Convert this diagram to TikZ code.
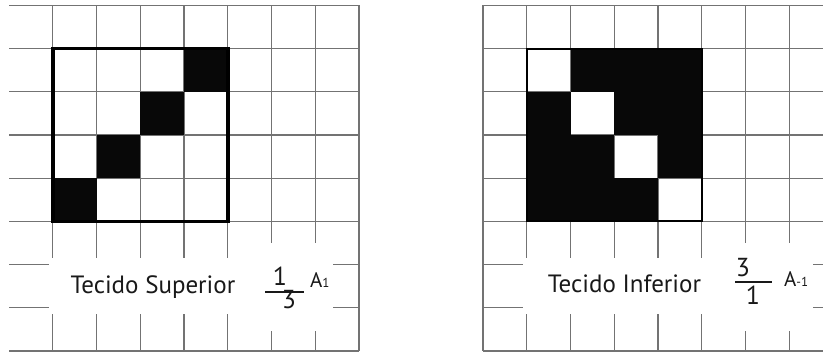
\documentclass[tikz,border=0pt]{standalone}
\usepackage{fontspec}
\setmainfont{PT Sans}
\begin{document}
\begin{tikzpicture}[x=1pt,y=-1pt,
  gridline/.style={draw=black!55,line width=1.2pt},
  mask/.style={fill=white,draw=none},
  cellfill/.style={fill=black!97},
  lbl/.style={inner sep=0pt,anchor=base,font=\fontsize{25}{28}\selectfont,text=black!90},
  num/.style={inner sep=0pt,anchor=base,font=\fontsize{26}{28}\selectfont,text=black!90},
  amark/.style={inner sep=0pt,anchor=base west,font=\fontsize{21}{23}\selectfont,text=black!90},
  fracbar/.style={draw=black!90,line width=1.4pt}]
\useasboundingbox (0,0) rectangle (823,352);
% ---------- left grid ----------
\foreach \j in {0,...,8} \draw[gridline] (9,5.5+43.2*\j) -- (359,5.5+43.2*\j);
\foreach \i in {1,...,8} \draw[gridline] (9+43.75*\i,5.5) -- (9+43.75*\i,351.1);
% ---------- right grid ----------
\foreach \j in {0,...,8} \draw[gridline] (483,5.5+43.2*\j) -- (823,5.5+43.2*\j);
\foreach \i in {0,...,7} \draw[gridline] (483+43.75*\i,5.5) -- (483+43.75*\i,351.1);
% ---------- label masks ----------
\fill[mask] (49,258) rectangle (333,314);
\fill[mask] (245,243) rectangle (333,331);
\fill[mask] (523,258) rectangle (813,314);
\fill[mask] (720,243) rectangle (813,331);
% ---------- left weave ----------
\foreach \r/\c in {1/4,2/3,3/2,4/1}
  \fill[cellfill] (9+43.75*\c,5.5+43.2*\r) rectangle ++(43.75,43.2);
\draw[line width=3.5pt,black] (9+43.75,5.5+43.2) rectangle (9+5*43.75,5.5+5*43.2);
% ---------- right weave ----------
\foreach \r/\c in {1/2,1/3,1/4,2/1,2/3,2/4,3/1,3/2,3/4,4/1,4/2,4/3}
  \fill[cellfill] (483+43.75*\c,5.5+43.2*\r) rectangle ++(43.75,43.2);
\draw[line width=2pt,black] (483+43.75,5.5+43.2) rectangle (483+5*43.75,5.5+5*43.2);
% ---------- labels ----------
\node[lbl] (ts) at (153,294) {Tecido Superior};
\node[num] (n1) at (280,286) {1};
\draw[fracbar] (265,292) -- (304,292);
\node[num] (d1) at (289,309) {3};
\node[amark] (a1) at (310,288) {A{\fontsize{13}{15}\selectfont 1}};
\node[lbl] (ti) at (624.5,293) {Tecido Inferior};
\node[num] (n2) at (743,277) {3};
\draw[fracbar] (735,282) -- (772,282);
\node[num] (d2) at (753,305) {1};
\node[amark] (a2) at (784,287) {A{\fontsize{13}{15}\selectfont -1}};
\end{tikzpicture}
\end{document}
